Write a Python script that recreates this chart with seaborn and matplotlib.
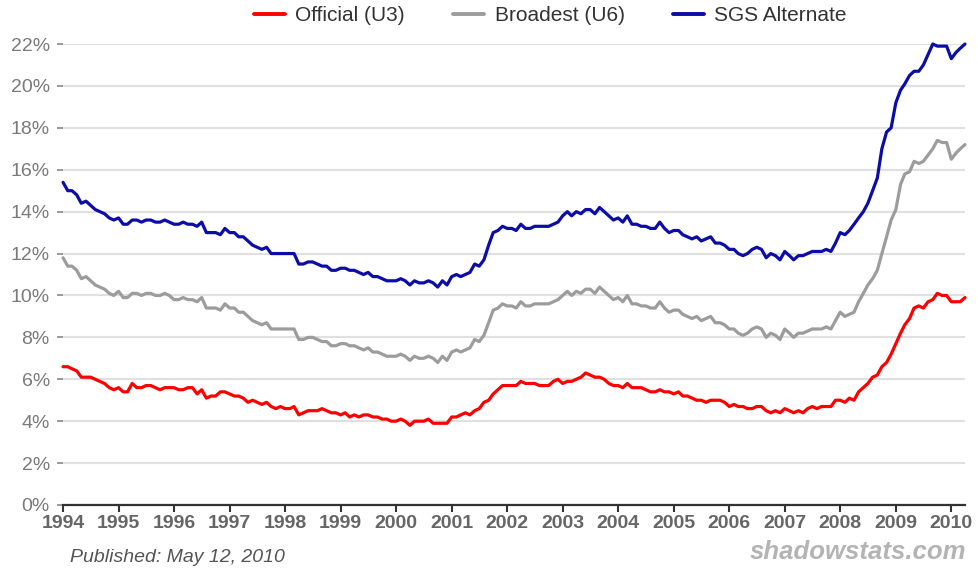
import pandas as pd
import matplotlib
matplotlib.use("Agg")
import matplotlib.pyplot as plt
import seaborn as sns

# monthly values, Jan 1994 - Apr 2010 (%)
u3 = [
    6.6, 6.6, 6.5, 6.4, 6.1, 6.1, 6.1, 6.0, 5.9, 5.8, 5.6, 5.5,   # 1994
    5.6, 5.4, 5.4, 5.8, 5.6, 5.6, 5.7, 5.7, 5.6, 5.5, 5.6, 5.6,   # 1995
    5.6, 5.5, 5.5, 5.6, 5.6, 5.3, 5.5, 5.1, 5.2, 5.2, 5.4, 5.4,   # 1996
    5.3, 5.2, 5.2, 5.1, 4.9, 5.0, 4.9, 4.8, 4.9, 4.7, 4.6, 4.7,   # 1997
    4.6, 4.6, 4.7, 4.3, 4.4, 4.5, 4.5, 4.5, 4.6, 4.5, 4.4, 4.4,   # 1998
    4.3, 4.4, 4.2, 4.3, 4.2, 4.3, 4.3, 4.2, 4.2, 4.1, 4.1, 4.0,   # 1999
    4.0, 4.1, 4.0, 3.8, 4.0, 4.0, 4.0, 4.1, 3.9, 3.9, 3.9, 3.9,   # 2000
    4.2, 4.2, 4.3, 4.4, 4.3, 4.5, 4.6, 4.9, 5.0, 5.3, 5.5, 5.7,   # 2001
    5.7, 5.7, 5.7, 5.9, 5.8, 5.8, 5.8, 5.7, 5.7, 5.7, 5.9, 6.0,   # 2002
    5.8, 5.9, 5.9, 6.0, 6.1, 6.3, 6.2, 6.1, 6.1, 6.0, 5.8, 5.7,   # 2003
    5.7, 5.6, 5.8, 5.6, 5.6, 5.6, 5.5, 5.4, 5.4, 5.5, 5.4, 5.4,   # 2004
    5.3, 5.4, 5.2, 5.2, 5.1, 5.0, 5.0, 4.9, 5.0, 5.0, 5.0, 4.9,   # 2005
    4.7, 4.8, 4.7, 4.7, 4.6, 4.6, 4.7, 4.7, 4.5, 4.4, 4.5, 4.4,   # 2006
    4.6, 4.5, 4.4, 4.5, 4.4, 4.6, 4.7, 4.6, 4.7, 4.7, 4.7, 5.0,   # 2007
    5.0, 4.9, 5.1, 5.0, 5.4, 5.6, 5.8, 6.1, 6.2, 6.6, 6.8, 7.2,   # 2008
    7.7, 8.2, 8.6, 8.9, 9.4, 9.5, 9.4, 9.7, 9.8, 10.1, 10.0, 10.0,  # 2009
    9.7, 9.7, 9.7, 9.9,                                           # 2010
]

u6 = [
    11.8, 11.4, 11.4, 11.2, 10.8, 10.9, 10.7, 10.5, 10.4, 10.3, 10.1, 10.0,
    10.2, 9.9, 9.9, 10.1, 10.1, 10.0, 10.1, 10.1, 10.0, 10.0, 10.1, 10.0,
    9.8, 9.8, 9.9, 9.8, 9.8, 9.7, 9.9, 9.4, 9.4, 9.4, 9.3, 9.6,
    9.4, 9.4, 9.2, 9.2, 9.0, 8.8, 8.7, 8.6, 8.7, 8.4, 8.4, 8.4,
    8.4, 8.4, 8.4, 7.9, 7.9, 8.0, 8.0, 7.9, 7.8, 7.8, 7.6, 7.6,
    7.7, 7.7, 7.6, 7.6, 7.5, 7.4, 7.5, 7.3, 7.3, 7.2, 7.1, 7.1,
    7.1, 7.2, 7.1, 6.9, 7.1, 7.0, 7.0, 7.1, 7.0, 6.8, 7.1, 6.9,
    7.3, 7.4, 7.3, 7.4, 7.5, 7.9, 7.8, 8.1, 8.7, 9.3, 9.4, 9.6,
    9.5, 9.5, 9.4, 9.7, 9.5, 9.5, 9.6, 9.6, 9.6, 9.6, 9.7, 9.8,
    10.0, 10.2, 10.0, 10.2, 10.1, 10.3, 10.3, 10.1, 10.4, 10.2, 10.0, 9.8,
    9.9, 9.7, 10.0, 9.6, 9.6, 9.5, 9.5, 9.4, 9.4, 9.7, 9.4, 9.2,
    9.3, 9.3, 9.1, 9.0, 8.9, 9.0, 8.8, 8.9, 9.0, 8.7, 8.7, 8.6,
    8.4, 8.4, 8.2, 8.1, 8.2, 8.4, 8.5, 8.4, 8.0, 8.2, 8.1, 7.9,
    8.4, 8.2, 8.0, 8.2, 8.2, 8.3, 8.4, 8.4, 8.4, 8.5, 8.4, 8.8,
    9.2, 9.0, 9.1, 9.2, 9.7, 10.1, 10.5, 10.8, 11.2, 12.0, 12.8, 13.6,
    14.1, 15.3, 15.8, 15.9, 16.4, 16.3, 16.4, 16.7, 17.0, 17.4, 17.3, 17.3,
    16.5, 16.8, 17.0, 17.2,
]

sgs = [
    15.4, 15.0, 15.0, 14.8, 14.4, 14.5, 14.3, 14.1, 14.0, 13.9, 13.7, 13.6,
    13.7, 13.4, 13.4, 13.6, 13.6, 13.5, 13.6, 13.6, 13.5, 13.5, 13.6, 13.5,
    13.4, 13.4, 13.5, 13.4, 13.4, 13.3, 13.5, 13.0, 13.0, 13.0, 12.9, 13.2,
    13.0, 13.0, 12.8, 12.8, 12.6, 12.4, 12.3, 12.2, 12.3, 12.0, 12.0, 12.0,
    12.0, 12.0, 12.0, 11.5, 11.5, 11.6, 11.6, 11.5, 11.4, 11.4, 11.2, 11.2,
    11.3, 11.3, 11.2, 11.2, 11.1, 11.0, 11.1, 10.9, 10.9, 10.8, 10.7, 10.7,
    10.7, 10.8, 10.7, 10.5, 10.7, 10.6, 10.6, 10.7, 10.6, 10.4, 10.7, 10.5,
    10.9, 11.0, 10.9, 11.0, 11.1, 11.5, 11.4, 11.7, 12.4, 13.0, 13.1, 13.3,
    13.2, 13.2, 13.1, 13.4, 13.2, 13.2, 13.3, 13.3, 13.3, 13.3, 13.4, 13.5,
    13.8, 14.0, 13.8, 14.0, 13.9, 14.1, 14.1, 13.9, 14.2, 14.0, 13.8, 13.6,
    13.7, 13.5, 13.8, 13.4, 13.4, 13.3, 13.3, 13.2, 13.2, 13.5, 13.2, 13.0,
    13.1, 13.1, 12.9, 12.8, 12.7, 12.8, 12.6, 12.7, 12.8, 12.5, 12.5, 12.4,
    12.2, 12.2, 12.0, 11.9, 12.0, 12.2, 12.3, 12.2, 11.8, 12.0, 11.9, 11.7,
    12.1, 11.9, 11.7, 11.9, 11.9, 12.0, 12.1, 12.1, 12.1, 12.2, 12.1, 12.5,
    13.0, 12.9, 13.1, 13.4, 13.7, 14.0, 14.4, 15.0, 15.6, 17.0, 17.8, 18.0,
    19.2, 19.8, 20.1, 20.5, 20.7, 20.7, 21.0, 21.5, 22.0, 21.9, 21.9, 21.9,
    21.3, 21.6, 21.8, 22.0,
]

series_names = ["Official (U3)", "Broadest (U6)", "SGS Alternate"]
series_colors = ["#ff0000", "#9c9c9c", "#0c0ca6"]
year_ticks = list(range(1994, 2011))

months = pd.date_range("1994-01-01", periods=len(u3), freq="MS")
df = pd.concat([
    pd.DataFrame({"date": months, "rate": vals, "series": name})
    for name, vals in zip(series_names, [u3, u6, sgs])
])

sns.set_theme(style="white")

fig = plt.figure(figsize=(9.79, 5.71), dpi=100)
ax = fig.add_axes([0.0644, 0.1156, 0.9213, 0.8073])

sns.lineplot(data=df, x="date", y="rate", hue="series",
             hue_order=series_names, palette=series_colors,
             linewidth=2.3, ax=ax, legend=False)
for ln in ax.get_lines():
    ln.set_clip_on(False)

ax.set_xlim(pd.Timestamp("1994-01-01"), pd.Timestamp("2010-04-01"))
ax.set_ylim(0, 22)
ax.set_yticks(range(0, 23, 2))
ax.set_yticklabels([f"{v}%" for v in range(0, 23, 2)])
ax.set_xticks([pd.Timestamp(f"{y}-01-01") for y in year_ticks])
ax.set_xticklabels([str(y) for y in year_ticks])
ax.set_xlabel("")
ax.set_ylabel("")

ax.grid(axis="y", color="#e0e0e0", linewidth=1.5)
ax.grid(axis="x", visible=False)
for side in ["top", "right", "left"]:
    ax.spines[side].set_visible(False)
ax.spines["bottom"].set_color("#333333")
ax.spines["bottom"].set_linewidth(1.6)
ax.spines["bottom"].set_zorder(5)

ax.tick_params(axis="y", left=True, length=4.5, width=1.2, color="#888888",
               pad=5, labelsize=14, labelcolor="#7a7a7a")
ax.tick_params(axis="x", bottom=True, length=5, width=1.5, color="#333333",
               pad=2, labelsize=14, labelcolor="#666666")
for lab in ax.get_xticklabels():
    lab.set_fontfamily("Liberation Sans")
    lab.set_fontweight("bold")
for lab in ax.get_yticklabels():
    lab.set_fontfamily("Liberation Sans")

handles = [plt.Line2D([], [], color=c, lw=2.8) for c in series_colors]
fig.legend(handles, series_names, loc="center", bbox_to_anchor=(0.562, 0.972),
           ncol=3, frameon=False, handlelength=1.5, handletextpad=0.5,
           columnspacing=2.3,
           prop={"family": "Liberation Sans", "size": 15}, labelcolor="#333333")

fig.text(0.072, 0.024, "Published: May 12, 2010", fontsize=14, style="italic",
         family="Liberation Sans", color="#555555", va="center", ha="left")
fig.text(0.987, 0.033, "shadowstats.com", fontsize=18.5, style="italic",
         weight="bold", family="Liberation Sans", color="#b4b4b4",
         va="center", ha="right")

fig.savefig("out.png", dpi=100)
